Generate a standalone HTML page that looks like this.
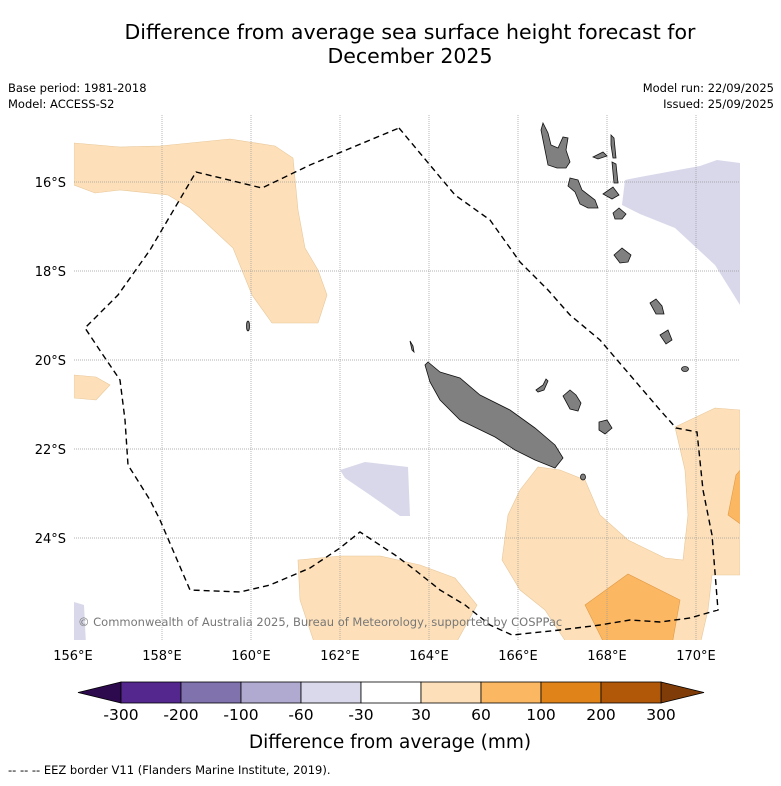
<!DOCTYPE html>
<html><head><meta charset="utf-8"><style>
body{margin:0;background:#fff;width:781px;height:781px;overflow:hidden}
svg{font-family:"DejaVu Sans","Liberation Sans",sans-serif}
</style></head><body>
<svg id="chart" width="781" height="781" viewBox="0 0 781 781">
<text x="410" y="39" font-size="20.5" text-anchor="middle">Difference from average sea surface height forecast for</text>
<text x="410" y="63" font-size="20.5" text-anchor="middle">December 2025</text>
<text x="8" y="92" font-size="11.5">Base period: 1981-2018</text>
<text x="8" y="108" font-size="11.5">Model: ACCESS-S2</text>
<text x="774" y="92" font-size="11.5" text-anchor="end">Model run: 22/09/2025</text>
<text x="774" y="108" font-size="11.5" text-anchor="end">Issued: 25/09/2025</text>
<defs><clipPath id="mapclip"><rect x="74" y="115" width="666" height="525"/></clipPath></defs>
<g clip-path="url(#mapclip)">
<g fill="#fde0b9" stroke="#e8c79a" stroke-width="0.6">
<polygon points="74,143 120,147 160,146 230,139 275,146 293,158 298,210 305,248 318,270 327,295 318,323 272,323 252,295 233,248 190,208 168,195 120,190 95,193 74,185"/>
<polygon points="74,375 96,377 110,385 96,400 74,398"/>
<polygon points="298,560 340,556 380,556 420,565 455,578 477,605 455,645 315,645 300,600"/>
<polygon points="502,560 508,515 520,490 538,467 560,470 585,480 600,515 628,540 665,558 683,560 688,515 685,470 675,427 715,408 740,410 740,575 712,575 708,610 700,645 568,645 545,610 520,590"/>
</g>
<g fill="#fbb762" stroke="#e09a48" stroke-width="0.6">
<polygon points="585,605 628,574 680,600 672,645 605,645"/>
<polygon points="742,468 736,475 728,515 742,525"/>
</g>
<g fill="#d8d8ea">
<polygon points="340,470 365,462 408,467 410,516 400,516 370,495 345,478"/>
<polygon points="625,180 640,177 700,166 717,160 740,163 740,305 715,265 675,228 640,214 622,205"/>
<polygon points="74,602 84,605 86,645 74,645"/>
</g>
<g stroke="#999" stroke-width="0.7" stroke-dasharray="1,1" id="grid"></g>
<g fill="#808080" stroke="#111" stroke-width="0.8">
<polygon points="428,362 440,372 460,378 480,395 510,410 535,428 555,445 563,458 555,468 535,460 515,450 495,437 460,420 440,400 430,382 425,365"/>
<polygon points="543,123 548,133 551,145 558,148 563,137 568,138 566,150 570,162 566,168 557,168 548,165 545,150 541,130"/>
<polygon points="570,178 578,180 582,190 595,200 598,208 588,208 580,204 575,192 568,186"/>
<polygon points="593,157 603,152 607,156 598,159"/>
<polygon points="611,135 614,138 616,158 613,158 611,145"/>
<polygon points="612,162 616,164 618,183 614,183"/>
<polygon points="603,194 613,187 619,195 612,199"/>
<polygon points="613,213 619,208 626,214 622,219 615,219"/>
<polygon points="614,255 622,248 631,255 628,262 620,263"/>
<polygon points="650,303 656,299 662,306 664,314 656,314"/>
<polygon points="660,335 668,330 672,340 666,344"/>
<polygon points="563,396 570,390 576,395 581,403 578,411 570,409"/>
<polygon points="599,422 607,420 612,428 605,434 599,430"/>
<polygon points="536,390 543,385 546,379 548,381 544,390 538,392"/>
<ellipse cx="685" cy="369" rx="3.5" ry="2.5"/>
<ellipse cx="583" cy="477" rx="2.5" ry="3"/>
<ellipse cx="248" cy="326" rx="1.5" ry="5"/>
<polygon points="410,341 413,346 414,352 412,350"/>
</g>
<polyline fill="none" stroke="#000" stroke-width="1.4" stroke-dasharray="6,4" points="399,128 455,195 490,220 520,262 548,290 570,315 600,340 630,375 660,410 676,428 697,432 703,490 712,535 718,610 690,618 660,622 630,620 600,625 560,630 512,635 490,625 465,605 440,590 415,570 395,555 360,532 340,548 310,568 270,585 240,592 190,590 160,520 150,500 128,465 125,420 120,380 103,355 85,328 118,295 150,250 196,172 262,188 310,165 399,128"/>
<text x="78" y="626" font-size="11.5" fill="#777">© Commonwealth of Australia 2025, Bureau of Meteorology, supported by COSPPac</text>
</g>
<g id="axes" font-size="13"></g>
<g id="cbar"></g>
<text x="390" y="748" font-size="18.5" text-anchor="middle">Difference from average (mm)</text>
<text x="8" y="774" font-size="11.5">-- -- -- EEZ border V11 (Flanders Marine Institute, 2019).</text>
</svg>
<script>
const lonTicks=[156,158,160,162,164,166,168,170];
const latTicks=[16,18,20,22,24];
const cbarLabels=["-300","-200","-100","-60","-30","30","60","100","200","300"];
const cbarColors=["#54278f","#7f72ad","#b0aad1","#d9d9eb","#ffffff","#fde0b9","#fbb762","#e0841a","#b15808"];
const lowColor="#2d0a4e", highColor="#7f3b08";
const NS="http://www.w3.org/2000/svg";
const x=lon=>73+(lon-156)*44.5;
const y=lat=>182+(lat-16)*44.5;
function mk(t,a,p){const e=document.createElementNS(NS,t);for(const k in a)e.setAttribute(k,a[k]);p.appendChild(e);return e;}
const grid=document.getElementById('grid'),axes=document.getElementById('axes'),cb=document.getElementById('cbar');
lonTicks.forEach(l=>{
 if(l>156){const g=mk('line',{x1:x(l),x2:x(l),y1:115,y2:640},grid);
 
 }
 const t=mk('text',{x:x(l),y:660,'text-anchor':'middle'},axes);t.textContent=l+'°E';
 
 
});
latTicks.forEach(l=>{
 const g=mk('line',{x1:74,x2:740,y1:y(l),y2:y(l)},grid);
 
 
 const t=mk('text',{x:66,y:y(l)+5,'text-anchor':'end'},axes);t.textContent=l+'°S';
 
 
});
const cx0=121,cw=60,cy=682,ch=21;
const lt=mk('polygon',{points:`${cx0},${cy} 78,${cy+ch/2} ${cx0},${cy+ch}`,fill:lowColor,stroke:'#000','stroke-width':0.8},cb);


const re=cx0+cw*cbarColors.length;
const rt=mk('polygon',{points:`${re},${cy} ${re+43},${cy+ch/2} ${re},${cy+ch}`,fill:highColor,stroke:'#000','stroke-width':0.8},cb);


cbarColors.forEach((c,i)=>{
 const r=mk('rect',{x:cx0+i*cw,y:cy,width:cw,height:ch,fill:c,stroke:'#000','stroke-width':0.8},cb);
 
 
});
cbarLabels.forEach((s,i)=>{
 const t=mk('text',{x:cx0+i*cw,y:720,'text-anchor':'middle','font-size':15.5},cb);t.textContent=s;
 
 
});
</script>
</body></html>
